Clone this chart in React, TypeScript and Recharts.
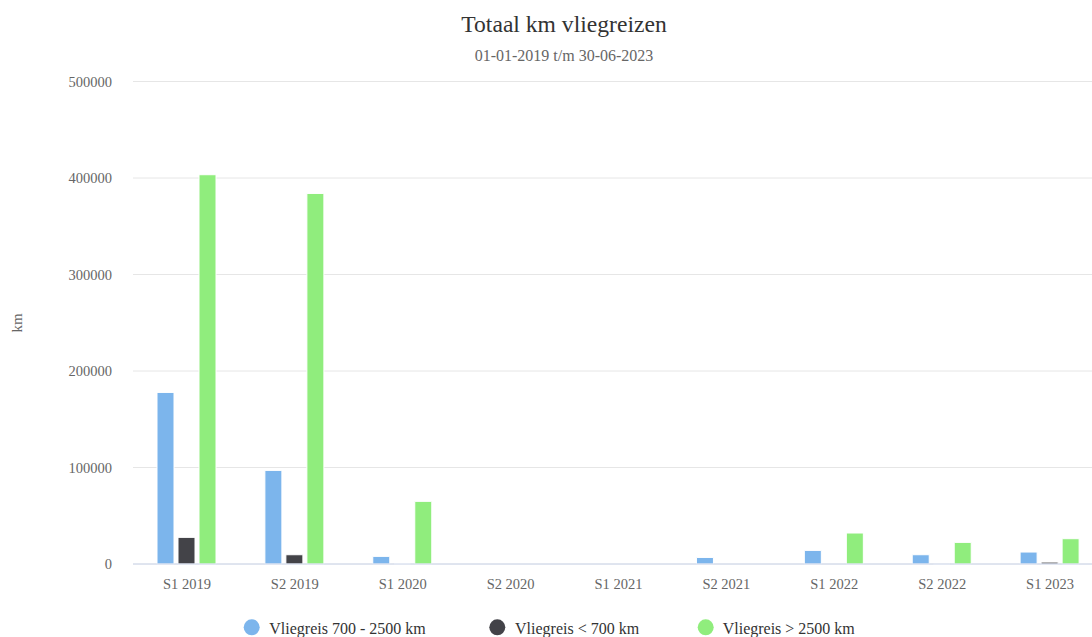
import React from 'react';
import { BarChart, Bar, XAxis, YAxis, CartesianGrid } from 'recharts';

const categories = ['S1 2019', 'S2 2019', 'S1 2020', 'S2 2020', 'S1 2021', 'S2 2021', 'S1 2022', 'S2 2022', 'S1 2023'];
const mid = [177800, 97000, 7900, 0, 0, 6800, 14100, 9600, 12400];
const short = [27600, 9600, 500, 0, 0, 0, 0, 300, 2000];
const long = [403400, 384000, 64900, 0, 0, 0, 32100, 22400, 26200];
const yTicks = [0, 100000, 200000, 300000, 400000, 500000];

const seriesNames = ['Vliegreis 700 - 2500 km', 'Vliegreis < 700 km', 'Vliegreis > 2500 km'];
const seriesColors = ['#7cb5ec', '#434348', '#90ed7d'];

const rows = categories.map((name, i) => ({ name, mid: mid[i], short: short[i], long: long[i] }));

const FONT = '"Liberation Serif", "Times New Roman", serif';
const legendPos = [
  { cx: 251.7, tx: 269.3 },
  { cx: 497.3, tx: 515 },
  { cx: 705.7, tx: 722.7 },
];

export default function App() {
  return (
    <div style={{ position: 'absolute', left: 0, top: 0, width: 1092, height: 637, overflow: 'hidden', background: '#fff' }}>
      <div style={{ position: 'relative', width: 1128, height: 637 }}>
        <BarChart
          width={1128}
          height={637}
          data={rows}
          margin={{ top: 81.5, right: 24, bottom: 43, left: 0 }}
          barGap={4}
          barSize={17}
        >
          <CartesianGrid vertical={false} stroke="#e6e6e6" />
          <XAxis
            dataKey="name"
            height={30}
            interval={0}
            tickLine={false}
            tickSize={0}
            tickMargin={15}
            axisLine={{ stroke: '#ccd6eb' }}
            tick={{ fill: '#666666', fontSize: 14.5, fontFamily: FONT }}
          />
          <YAxis
            width={133}
            domain={[0, 500000]}
            ticks={yTicks}
            interval={0}
            tickLine={false}
            axisLine={false}
            tickSize={0}
            tickMargin={21}
            tick={{ fill: '#666666', fontSize: 14.5, fontFamily: FONT }}
          />
          <Bar dataKey="mid" name={seriesNames[0]} fill={seriesColors[0]} stroke="#ffffff" strokeWidth={1} isAnimationActive={false} />
          <Bar dataKey="short" name={seriesNames[1]} fill={seriesColors[1]} stroke="#ffffff" strokeWidth={1} isAnimationActive={false} />
          <Bar dataKey="long" name={seriesNames[2]} fill={seriesColors[2]} stroke="#ffffff" strokeWidth={1} isAnimationActive={false} />
        </BarChart>
        <svg
          width={1128}
          height={637}
          style={{ position: 'absolute', left: 0, top: 0, pointerEvents: 'none' }}
          fontFamily={FONT}
        >
          <text x={564} y={32} textAnchor="middle" fontSize={23.6} fill="#333333">Totaal km vliegreizen</text>
          <text x={564} y={60.5} textAnchor="middle" fontSize={16} fill="#666666">01-01-2019 t/m 30-06-2023</text>
          <text x={22} y={323} transform="rotate(-90 22 323)" textAnchor="middle" fontSize={15} fill="#666666">km</text>
          {seriesNames.map((n, i) => (
            <g key={n}>
              <circle cx={legendPos[i].cx} cy={627.3} r={8} fill={seriesColors[i]} />
              <text x={legendPos[i].tx} y={633.5} fontSize={16} fill="#333333">{n}</text>
            </g>
          ))}
        </svg>
      </div>
    </div>
  );
}
